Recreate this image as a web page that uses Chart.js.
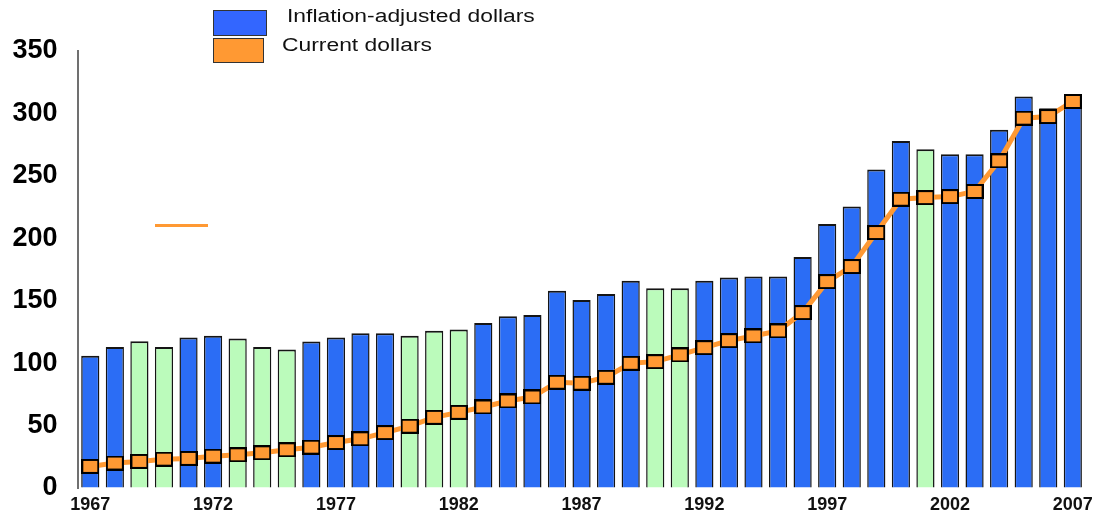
<!DOCTYPE html>
<html>
<head>
<meta charset="utf-8">
<script src="https://cdn.jsdelivr.net/npm/chart.js@4.4.1/dist/chart.umd.min.js"></script>
<style>
  html, body { margin: 0; padding: 0; background: #fff; }
  #wrap { position: relative; width: 1099px; height: 516px; overflow: hidden; }
  #c { position: absolute; left: 0; top: 0; }
  .lg-box { position: absolute; box-sizing: border-box; border: 1.5px solid #333; }
  .lg-text { position: absolute; font-family: "Liberation Sans", Arial, sans-serif; font-size: 18px; color: #111;
             white-space: nowrap; transform: scaleX(1.27); transform-origin: left center; line-height: 20px; }
  #stray { position: absolute; left: 155px; top: 224px; width: 53px; height: 3px; background: #ff9933; }
</style>
</head>
<body>
<div id="wrap">
  <canvas id="c" width="1099" height="516"></canvas>
  <div class="lg-box" style="left:213px; top:10px; width:54px; height:26px; background:#3366ff;"></div>
  <div class="lg-text" style="left:287px; top:6px;">Inflation-adjusted dollars</div>
  <div class="lg-box" style="left:213px; top:38px; width:51px; height:25px; background:#ff9933;"></div>
  <div class="lg-text" style="left:282px; top:35px;">Current dollars</div>
  <div id="stray"></div>
</div>
<script>
const years = ["1967","1968","1969","1970","1971","1972","1973","1974","1975","1976","1977","1978","1979","1980",
  "1981","1982","1983","1984","1985","1986","1987","1988","1989","1990","1991","1992","1993","1994","1995","1996",
  "1997","1998","1999","2000","2001","2002","2003","2004","2005","2006","2007"];
const inflationAdjusted = [106,113,117.5,113,120.5,122,119.7,113,111,117.3,120.5,124,124,122,126,127,132.2,137.5,138.6,
  157.9,150.6,155.4,166,160,160,166,168.5,169.3,169.3,185,211.5,225.4,255,278,271.4,267.4,267.4,287,313.6,304.2,308.2];
const currentDollars = [17.3,20,21.3,23.1,23.7,25.5,26.6,28.2,30.6,32.7,36.4,39.4,44.4,49.5,56.6,60.6,64.9,69.7,72.9,
  84.7,83.9,88.7,99.9,101.2,106.6,112.4,118,121.8,125.8,140.5,165.3,177.4,204.6,231.3,232.6,233.4,237.5,262,296.2,297.5,309.6];
const recessionYears = ["1969","1970","1973","1974","1975","1980","1981","1982","1990","1991","2001"];
const yTicks = [0,50,100,150,200,250,300,350];
const labeledYears = ["1967","1972","1977","1982","1987","1992","1997","2002","2007"];

const BLUE = '#2b6df5';
const GREEN = '#bbfbbb';
const ORANGE = '#ff9933';

const mk = document.createElement('canvas');
mk.width = 18; mk.height = 15;
(function(){
  const g = mk.getContext('2d');
  g.fillStyle = ORANGE; g.fillRect(0,0,18,15);
  g.strokeStyle = '#000'; g.lineWidth = 2; g.strokeRect(1,1,16,13);
})();

const barColors = years.map(y => recessionYears.includes(y) ? GREEN : BLUE);

new Chart(document.getElementById('c'), {
  data: {
    labels: years,
    datasets: [
      {
        type: 'line',
        label: 'Current dollars',
        data: currentDollars,
        borderColor: ORANGE,
        borderWidth: 5,
        pointStyle: mk,
        pointRadius: 8,
        pointHoverRadius: 8,
        tension: 0,
        order: 0
      },
      {
        type: 'bar',
        label: 'Inflation-adjusted dollars',
        data: inflationAdjusted,
        backgroundColor: barColors,
        borderColor: '#151515',
        borderWidth: { top: 2, left: 1.5, right: 1.5, bottom: 0 },
        borderSkipped: 'bottom',
        barPercentage: 0.74,
        categoryPercentage: 1.0,
        order: 1
      }
    ]
  },
  options: {
    responsive: false,
    animation: false,
    events: [],
    layout: { padding: { top: 51, right: 11, left: 0, bottom: 0 } },
    plugins: { legend: { display: false }, tooltip: { enabled: false } },
    scales: {
      x: {
        offset: true,
        grid: { display: false, drawTicks: false },
        border: { display: false },
        ticks: {
          autoSkip: false, maxRotation: 0, minRotation: 0, padding: 6,
          color: '#111',
          font: { family: 'Liberation Sans, Arial, sans-serif', size: 18, weight: 'bold' },
          callback: function(v, i) { const l = this.getLabelForValue(v); return labeledYears.includes(l) ? l : ''; }
        },
        afterFit: (s) => { s.height = 28; }
      },
      y: {
        min: 0, max: 350,
        afterBuildTicks: (s) => { s.ticks = yTicks.map(v => ({ value: v })); },
        grid: { display: true, color: 'rgba(0,0,0,0)', drawTicks: false },
        border: { display: true, color: '#707070', width: 2 },
        ticks: {
          padding: 13,
          color: '#000',
          font: { family: 'Liberation Sans, Arial, sans-serif', size: 27, weight: 'bold', lineHeight: 1 },
          callback: (v) => v + ' '
        },
        afterFit: (s) => { s.width = 78; }
      }
    }
  }
});
</script>
</body>
</html>
